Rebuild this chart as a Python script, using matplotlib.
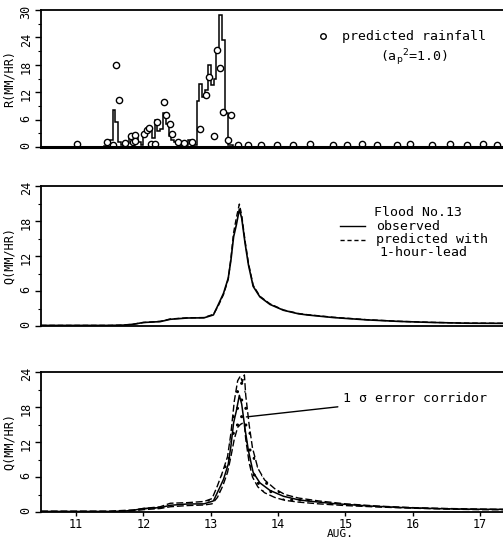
import numpy as np
import matplotlib
matplotlib.use('Agg')
from matplotlib import pyplot as plt

# observed hourly rainfall (mm/hr), first bin starts at Aug 11, 10:00
rain_start = 11 + 10/24.
rain_obs = [0.3, 1.0, 1.5, 8.0, 5.5, 1.0, 0.5, 1.0, 0.8, 2.5,
            2.5, 2.0, 1.0, 0.5, 2.8, 3.3, 4.0, 2.0, 6.0, 3.5,
            4.0, 7.5, 5.0, 2.5, 1.5, 1.0, 0.8, 0.5, 1.0, 0.5,
            1.5, 0.8, 0.5, 10.0, 13.7, 11.0, 12.5, 18.0, 13.5, 15.0,
            21.0, 29.0, 23.5, 7.5, 0.5, 0.4]

# predicted rainfall (circles)
pr_day = [11.02, 11.465, 11.554, 11.594, 11.64, 11.73, 11.812, 11.85, 11.876, 11.88,
          12.01, 12.05, 12.085, 12.12, 12.17, 12.207, 12.307, 12.336, 12.396, 12.42,
          12.52, 12.6, 12.72, 12.841, 12.93, 12.975, 13.05, 13.089, 13.139, 13.178,
          13.262, 13.302, 13.4, 13.55, 13.75, 13.985, 14.22, 14.47, 14.82, 15.03,
          15.25, 15.47, 15.77, 15.96, 16.29, 16.55, 16.81, 17.04, 17.25]
pr_val = [0.6, 1.2, 0.4, 17.9, 10.2, 0.8, 2.4, 1.2, 2.6, 1.4,
          2.9, 3.8, 4.1, 0.7, 0.7, 5.4, 9.9, 7.0, 5.1, 2.9,
          1.2, 0.8, 1.0, 3.9, 11.3, 15.3, 2.4, 21.3, 17.4, 7.7,
          1.5, 7.0, 0.4, 0.4, 0.5, 0.5, 0.4, 0.6, 0.5, 0.5,
          0.6, 0.5, 0.5, 0.6, 0.5, 0.6, 0.5, 0.6, 0.5]

# observed discharge
q_day = [10.48, 11.0, 11.5, 11.7, 11.85, 12.0, 12.25, 12.4, 12.65, 12.9,
         13.04, 13.11, 13.19, 13.26, 13.30, 13.34, 13.38, 13.425, 13.46, 13.51,
         13.56, 13.63, 13.73, 13.88, 14.08, 14.3, 14.43, 14.82, 15.32, 15.81,
         16.31, 16.8, 17.34]
q_obs = [0.1, 0.1, 0.1, 0.15, 0.3, 0.6, 0.75, 1.15, 1.37, 1.4,
         1.9, 3.6, 5.6, 8.2, 11.3, 15.3, 17.3, 20.0, 18.5, 14.2,
         10.5, 6.8, 5.0, 3.7, 2.7, 2.1, 1.9, 1.45, 1.05, 0.78,
         0.6, 0.48, 0.45]
# predicted with 1-hour lead
q_pred = [0.1, 0.1, 0.1, 0.15, 0.3, 0.6, 0.8, 1.2, 1.4, 1.45,
          2.0, 3.4, 5.4, 8.0, 11.6, 16.0, 18.5, 20.9, 19.0, 14.6,
          10.8, 7.0, 5.1, 3.8, 2.75, 2.15, 1.95, 1.5, 1.08, 0.8,
          0.62, 0.5, 0.46]

# 1 sigma corridor
up_day = [10.48, 11.5, 11.85, 12.0, 12.25, 12.4, 12.65, 12.9, 13.02, 13.1,
          13.18, 13.25, 13.30, 13.35, 13.40, 13.44, 13.47, 13.50, 13.52, 13.57,
          13.62, 13.70, 13.80, 13.95, 14.1, 14.3, 14.6, 15.0, 15.5, 16.0,
          16.5, 17.0, 17.34]
q_up = [0.15, 0.15, 0.35, 0.6, 0.9, 1.5, 1.6, 1.8, 2.3, 4.5,
        7.0, 9.5, 13.5, 19.0, 22.5, 23.3, 22.3, 23.5, 20.0, 15.0,
        11.0, 7.5, 5.5, 4.0, 3.0, 2.4, 1.9, 1.4, 1.0, 0.75,
        0.6, 0.5, 0.45]
q_lo = [0.05, 0.05, 0.2, 0.4, 0.6, 0.9, 1.1, 1.2, 1.4, 2.5,
        4.5, 6.8, 9.5, 12.5, 14.5, 15.0, 15.2, 15.0, 12.5, 8.5,
        6.0, 4.3, 3.3, 2.5, 2.0, 1.7, 1.4, 1.1, 0.85, 0.65,
        0.5, 0.4, 0.38]

plt.rcParams['font.family'] = 'DejaVu Sans Mono'
fs = 8.5
tfs = 9.5

fig = plt.figure(figsize=(5.03, 5.42), dpi=100)
x0 = 41/503.
w = 1 - x0
ax1 = fig.add_axes([x0, 1-147/542., w, 137/542.])
ax2 = fig.add_axes([x0, 1-326/542., w, 140/542.])
ax3 = fig.add_axes([x0, 1-512/542., w, 140/542.])

for ax in [ax1, ax2, ax3]:
    ax.set_xlim(10.48, 17.34)
    ax.spines['right'].set_visible(False)
    for s in ['left', 'bottom', 'top']:
        ax.spines[s].set_linewidth(1.3)
    ax.tick_params(axis='y', direction='out', length=4, width=1, labelsize=fs,
                   labelrotation=90, pad=2)
    ax.tick_params(axis='y', which='minor', direction='out', length=2, width=0.8)

# rainfall
edges = rain_start + np.arange(len(rain_obs)+1)/24.
ax1.stairs(rain_obs, edges, color='k', linewidth=1.1, baseline=0)
ax1.plot(pr_day, pr_val, 'o', mfc='white', mec='k', ms=4.5, mew=1.0)
ax1.set_ylim(0, 30)
ax1.set_yticks(np.arange(0, 31, 6))
ax1.set_yticks(np.arange(3, 30, 6), minor=True)
ax1.set_xticks([])
ax1.spines['bottom'].set_linewidth(2.2)
ax1.set_ylabel('R(MM/HR)', fontsize=fs, labelpad=3)
ax1.plot([14.67], [24.3], 'o', mfc='white', mec='k', ms=4, mew=1.0)
ax1.text(14.95, 24.3, 'predicted rainfall', fontsize=tfs, va='center')
ax1.text(15.52, 19.6, r'(a$_\mathrm{p}$$^\mathrm{2}$=1.0)', fontsize=tfs, va='center')

# observed vs predicted
ax2.plot(q_day, q_obs, 'k-', linewidth=1.2)
ax2.plot(q_day, q_pred, 'k--', linewidth=1.0, dashes=(4, 2))
ax2.set_ylim(0, 24)
ax2.set_yticks(np.arange(0, 25, 6))
ax2.set_yticks(np.arange(3, 24, 6), minor=True)
ax2.set_xticks([])
ax2.set_ylabel('Q(MM/HR)', fontsize=fs, labelpad=3)
ax2.text(15.42, 19.5, 'Flood No.13', fontsize=tfs, va='center')
ax2.plot([14.92, 15.29], [17.1, 17.1], 'k-', linewidth=1.0)
ax2.text(15.45, 17.1, 'observed', fontsize=tfs, va='center')
ax2.plot([14.92, 15.29], [14.8, 14.8], 'k--', linewidth=1.0, dashes=(3, 2))
ax2.text(15.45, 14.8, 'predicted with', fontsize=tfs, va='center')
ax2.text(15.5, 12.6, '1-hour-lead', fontsize=tfs, va='center')

# error corridor
ax3.fill_between(up_day, q_lo, q_up, facecolor='none', edgecolor='k',
                 hatch='..', linewidth=0)
ax3.plot(up_day, q_up, 'k--', linewidth=1.0, dashes=(5, 2))
ax3.plot(up_day, q_lo, 'k--', linewidth=1.0, dashes=(5, 2))
ax3.plot(q_day, q_obs, 'k-', linewidth=1.1)
ax3.set_ylim(0, 24)
ax3.set_yticks(np.arange(0, 25, 6))
ax3.set_yticks(np.arange(3, 24, 6), minor=True)
ax3.set_xticks(range(11, 18))
ax3.tick_params(axis='x', direction='out', length=3, width=1, labelsize=fs, pad=1)
ax3.set_ylabel('Q(MM/HR)', fontsize=fs, labelpad=3)
ax3.set_xlabel('AUG.', fontsize=8, va='center')
ax3.xaxis.set_label_coords(0.647, -0.16)
ax3.annotate('1 \u03c3 error corridor', xy=(13.53, 16.3), xytext=(14.97, 19.5),
             fontsize=tfs, va='center',
             arrowprops=dict(arrowstyle='-', color='k', linewidth=1.0, shrinkA=2, shrinkB=0))

fig.savefig('out.png', dpi=100)
